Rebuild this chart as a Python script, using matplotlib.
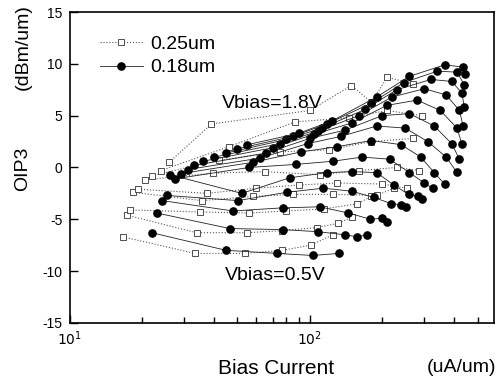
import matplotlib
matplotlib.use("Agg")
import matplotlib.pyplot as plt
from matplotlib.ticker import FixedLocator, NullFormatter

plt.rcParams['font.family'] = ['Liberation Sans', 'DejaVu Sans']

# 0.18um (filled circles): one row per Vbias step, 0.5V at bottom -> 1.8V at top
c_x = [
    [22.0, 44.8, 73.0, 103, 132],
    [23.1, 46.5, 77.2, 108, 140, 158, 173],
    [24.3, 47.8, 77.2, 110, 145, 179, 199, 209],
    [25.4, 50.2, 80.2, 114, 150, 185, 219, 241, 251],
    [26.2, 52.1, 82.6, 118, 150, 190, 224, 258, 281, 292],
    [27.5, 56, 88, 125, 165, 215, 260, 300, 325],
    [29, 58, 92, 130, 180, 240, 290, 330, 364],
    [31, 62, 98, 135, 190, 250, 310, 370, 409],
    [33, 66, 100, 140, 200, 260, 330, 390, 420],
    [36, 70, 104, 150, 210, 280, 350, 410, 430],
    [40, 75, 108, 160, 220, 300, 370, 420, 435],
    [45, 80, 112, 170, 230, 320, 390, 430, 440],
    [50, 85, 118, 180, 247, 340, 410, 440],
    [55, 90, 124, 190, 260, 364, 434, 445],
]
c_y = [
    [-6.3, -8.0, -8.3, -8.5, -8.3],
    [-4.4, -5.9, -6.0, -6.2, -6.5, -6.7, -6.5],
    [-3.2, -4.2, -3.9, -3.8, -4.4, -5.0, -4.9, -5.3],
    [-2.7, -3.2, -2.4, -2.0, -2.3, -2.9, -3.5, -3.6, -3.8],
    [-0.7, -2.5, -1.0, -0.5, -0.4, -0.5, -1.7, -2.6, -2.8, -3.0],
    [-1.1, 0.0, 0.3, 0.6, 1.0, 0.8, -0.5, -1.5, -2.0],
    [-0.6, 0.5, 1.5, 2.0, 2.6, 2.2, 1.0, -0.5, -1.6],
    [-0.2, 0.9, 2.3, 3.0, 4.0, 3.8, 2.5, 1.0, -0.45],
    [0.2, 1.4, 2.8, 3.6, 5.0, 5.2, 4.0, 2.3, 0.8],
    [0.6, 1.9, 3.2, 4.3, 6.0, 6.5, 5.5, 3.8, 2.3],
    [1.0, 2.3, 3.5, 5.0, 6.8, 7.6, 7.0, 5.5, 4.0],
    [1.4, 2.7, 3.8, 5.6, 7.5, 8.5, 8.3, 7.2, 5.8],
    [1.8, 3.0, 4.2, 6.2, 8.2, 9.3, 9.2, 8.0],
    [2.2, 3.3, 4.5, 6.8, 8.8, 9.9, 9.7, 9.0],
]

# 0.25um (open squares)
s_x = [
    [16.7, 33.3, 53.7, 77, 101, 125],
    [17.3, 33.8, 55, 77, 107, 131, 150],
    [17.8, 34.9, 56, 80, 115, 158, 180],
    [18.4, 35.5, 58, 85, 125, 190, 224],
    [19.3, 37.3, 60, 90, 130, 200, 253],
    [20.6, 39.5, 65, 110, 160, 230, 286],
    [22, 42, 75, 120, 180, 268],
    [24, 46, 87, 146, 210, 293],
    [26, 39, 100, 149, 181, 210, 268],
]
s_y = [
    [-6.7, -8.3, -8.3, -8.0, -7.5, -6.5],
    [-4.6, -6.3, -6.3, -6.1, -5.8, -5.4, -4.8],
    [-4.1, -4.3, -4.4, -4.2, -4.0, -3.5, -2.8],
    [-2.4, -3.2, -2.8, -2.6, -2.6, -2.7, -2.0],
    [-2.1, -2.5, -2.0, -1.7, -1.5, -1.6, -2.0],
    [-1.2, -0.55, -0.4, -0.7, -0.3, 0.0, -0.3],
    [-0.8, 0.7, 1.5, 1.7, 2.5, 2.8],
    [-0.3, 2.0, 4.4, 4.8, 5.5, 5.0],
    [0.5, 4.2, 5.5, 7.9, 6.3, 8.7, 8.1],
]

fig = plt.figure(figsize=(5.0, 3.78), dpi=100)
ax = fig.add_axes([0.139, 0.146, 0.849, 0.822])

for i, (xs, ys) in enumerate(zip(s_x, s_y)):
    ax.plot(xs, ys, linestyle=':', color='#555555', linewidth=0.8,
            marker='s', markersize=4.2, markerfacecolor='white',
            markeredgecolor='#333333', markeredgewidth=0.6,
            label='0.25um' if i == 0 else None)

for i, (xs, ys) in enumerate(zip(c_x, c_y)):
    ax.plot(xs, ys, linestyle='-', color='#222222', linewidth=0.6,
            marker='o', markersize=5.2, markerfacecolor='black',
            markeredgecolor='black', label='0.18um' if i == 0 else None)

ax.set_xscale('log')
ax.set_xlim(10, 585)
ax.set_ylim(-15, 15)
ax.set_yticks([-15, -10, -5, 0, 5, 10, 15])
ax.set_yticklabels(['-15', '-10', '-5', '0', '5', '10', '15'], fontsize=10)
ax.xaxis.set_major_locator(FixedLocator([10, 100]))
ax.set_xticklabels(['$10^1$', '$10^2$'], fontsize=10)
ax.xaxis.set_minor_locator(FixedLocator([20, 30, 40, 50, 60, 70, 80, 90,
                                         200, 300, 400, 500]))
ax.xaxis.set_minor_formatter(NullFormatter())
ax.tick_params(axis='both', which='major', direction='in', length=6,
               width=1, top=False, right=False, pad=5)
ax.tick_params(axis='x', which='minor', direction='in', length=4, width=1,
               top=False)
for sp in ax.spines.values():
    sp.set_linewidth(1.2)

ax.legend(loc='upper left', bbox_to_anchor=(0.072, 0.925), frameon=False,
          fontsize=14, handlelength=2.2, handletextpad=0.4, labelspacing=0.3,
          borderpad=0, borderaxespad=0)

fig.text(225 / 500, 1 - 276 / 378, 'Vbias=0.5V', fontsize=14, va='center')
fig.text(222 / 500, 1 - 103 / 378, 'Vbias=1.8V', fontsize=14, va='center')

fig.text(0.046, 1 - 169 / 378, 'OIP3', rotation=90, fontsize=14,
         ha='center', va='center')
fig.text(0.046, 1 - 47 / 378, '(dBm/um)', rotation=90, fontsize=14,
         ha='center', va='center')
fig.text(276 / 500, 1 - 369 / 378, 'Bias Current', fontsize=15,
         ha='center', va='center')
fig.text(462 / 500, 1 - 367 / 378, '(uA/um)', fontsize=14,
         ha='center', va='center')

fig.savefig('out.png', dpi=100)
